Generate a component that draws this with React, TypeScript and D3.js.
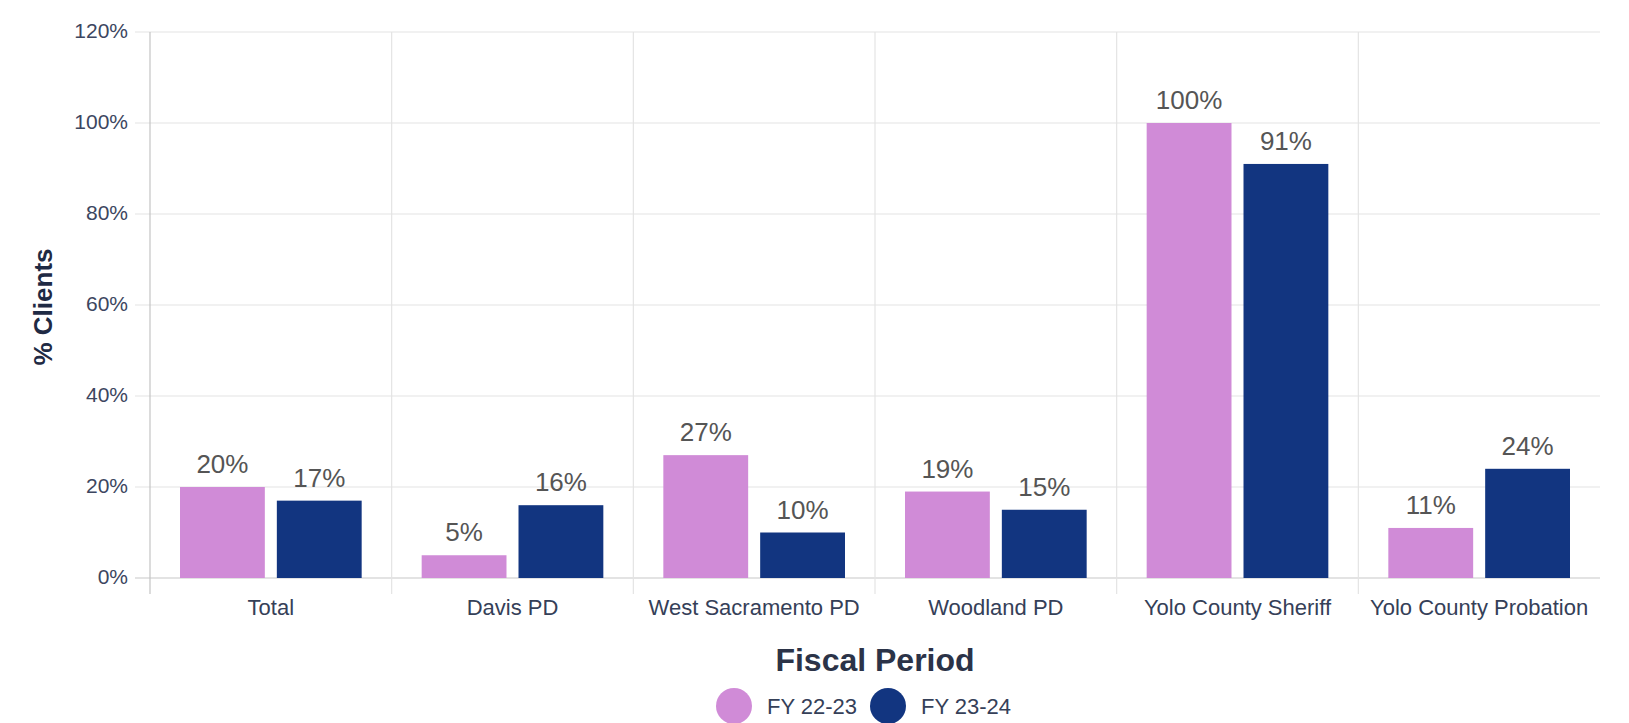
import React from "react";
import * as d3 from "d3";

// Agencies along the x axis
const categories = [
  "Total",
  "Davis PD",
  "West Sacramento PD",
  "Woodland PD",
  "Yolo County Sheriff",
  "Yolo County Probation",
];

// Fiscal periods (legend series)
const seriesNames = ["FY 22-23", "FY 23-24"];

// Percent of clients per agency, per fiscal period
const fy2223 = [20, 5, 27, 19, 100, 11];
const fy2324 = [17, 16, 10, 15, 91, 24];

// Y axis ticks
const yTicks = [0, 20, 40, 60, 80, 100, 120];

const colors = ["#D08BD7", "#123580"];

const W = 1629;
const H = 723;
const left = 150;
const right = 1600;
const top = 32;
const bottom = 578;

export default function App() {
  const x0 = d3.scaleBand<string>().domain(categories).range([left, right]);
  const groupPad = 30;
  const x1 = d3
    .scaleBand<number>()
    .domain([0, 1])
    .range([0, x0.bandwidth() - 2 * groupPad])
    .paddingInner(0.124);
  const y = d3.scaleLinear().domain([0, 120]).range([bottom, top]);

  const series = [fy2223, fy2324];
  const font = "'Liberation Sans', Arial, sans-serif";
  const legendX = [734, 888];

  return (
    <svg
      width={W}
      height={H}
      style={{ position: "absolute", left: 0, top: 0, background: "#fff" }}
      fontFamily={font}
    >
      {/* horizontal gridlines */}
      {yTicks.map((t) => (
        <line
          key={"g" + t}
          x1={left - 15}
          x2={right}
          y1={y(t)}
          y2={y(t)}
          stroke={t === 0 ? "#c8c8c8" : "#e4e4e4"}
          strokeWidth={1.2}
        />
      ))}
      {/* vertical category separators */}
      {categories.slice(1).map((c) => (
        <line
          key={"v" + c}
          x1={x0(c)!}
          x2={x0(c)!}
          y1={top}
          y2={bottom + 16}
          stroke="#e4e4e4"
          strokeWidth={1.2}
        />
      ))}
      {/* y axis line */}
      <line x1={left} x2={left} y1={top} y2={bottom + 16} stroke="#c4c4c4" strokeWidth={1.2} />

      {/* y tick labels */}
      {yTicks.map((t) => (
        <text
          key={"t" + t}
          x={128}
          y={y(t)}
          dy="0.3em"
          textAnchor="end"
          fontSize={21}
          fill="#3c4660"
        >
          {t + "%"}
        </text>
      ))}

      {/* bars and value labels */}
      {categories.map((c, i) => (
        <g key={c} transform={`translate(${x0(c)! + groupPad},0)`}>
          {series.map((s, k) => (
            <g key={k}>
              <rect
                x={x1(k)!}
                y={y(s[i])}
                width={x1.bandwidth()}
                height={y(0) - y(s[i])}
                fill={colors[k]}
              />
              <text
                x={x1(k)! + x1.bandwidth() / 2}
                y={y(s[i]) - 14}
                textAnchor="middle"
                fontSize={26}
                fill="#555555"
              >
                {s[i] + "%"}
              </text>
            </g>
          ))}
        </g>
      ))}

      {/* category labels */}
      {categories.map((c) => (
        <text
          key={"c" + c}
          x={x0(c)! + x0.bandwidth() / 2}
          y={615}
          textAnchor="middle"
          fontSize={22}
          fill="#354058"
        >
          {c}
        </text>
      ))}

      {/* y axis title */}
      <text
        transform={`translate(52,${(top + bottom) / 2 + 2}) rotate(-90)`}
        textAnchor="middle"
        fontSize={26}
        fontWeight="bold"
        fill="#1f2a44"
      >
        % Clients
      </text>

      {/* x axis title */}
      <text
        x={(left + right) / 2}
        y={671}
        textAnchor="middle"
        fontSize={32}
        fontWeight="bold"
        fill="#2b3348"
      >
        Fiscal Period
      </text>

      {/* legend */}
      {seriesNames.map((n, k) => (
        <g key={n}>
          <circle cx={legendX[k]} cy={706} r={18} fill={colors[k]} />
          <text x={legendX[k] + 33} y={714} fontSize={22} fill="#354058">
            {n}
          </text>
        </g>
      ))}
    </svg>
  );
}
